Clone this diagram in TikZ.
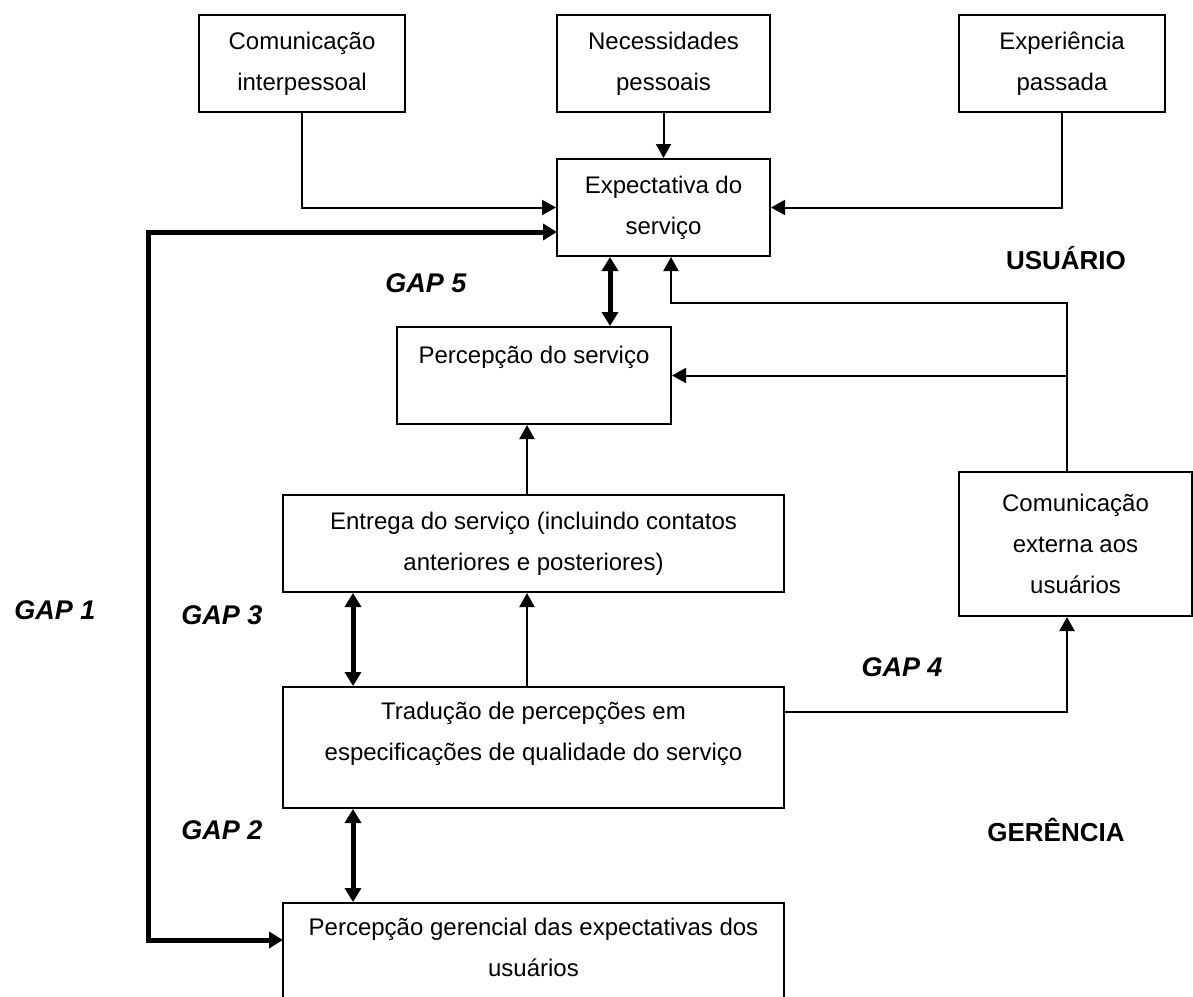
\documentclass[tikz,border=0pt]{standalone}
\usepackage{fontspec}
\setmainfont{Liberation Sans}
\usetikzlibrary{arrows.meta}

\begin{document}
\begin{tikzpicture}[x=0.5pt,y=-0.5pt,
  box/.style={draw,line width=1pt,align=center,inner sep=0pt,
    font=\fontsize{12pt}{20.5pt}\selectfont},
  arr/.style={line width=1pt,-{Triangle[length=7pt,width=7.5pt]}},
  dbl/.style={line width=2.5pt,{Triangle[length=7pt,width=8pt]}-{Triangle[length=7pt,width=8pt]}},
  gap/.style={font=\fontsize{13.5pt}{16pt}\selectfont\bfseries\itshape},
  side/.style={font=\fontsize{13pt}{16pt}\selectfont\bfseries}]
  % page (the last box runs off the bottom)
  \clip (0,0) rectangle (1193,996);
  % columns and rows used by the connectors
  \coordinate (xg5) at (610,0);
  \coordinate (xfb) at (671,0);
  \coordinate (xdl) at (527,0);
  \coordinate (xgp) at (353,0);
  \coordinate (xg1) at (148,0);
  \coordinate (xce) at (1067,0);
  \coordinate (yfb) at (0,303);
  \coordinate (yg4) at (0,712);
  % usuario side
  \node[box,minimum width=103pt,minimum height=48.5pt] (comint) at (302,63.5) {Comunicação\\interpessoal};
  \node[box,minimum width=106.5pt,minimum height=48.5pt] (necess) at (663.5,63.5) {Necessidades\\pessoais};
  \node[box,minimum width=103pt,minimum height=48.5pt] (experi) at (1062,63.5) {Experiência\\passada};
  \node[box,minimum width=106.5pt,minimum height=48.5pt] (expect) at (663.5,207.5) {Expectativa do\\serviço};
  \node[box,minimum width=137pt,minimum height=48.5pt] (percep) at (534,375.5) {Percepção do serviço\\~};
  % gerencia side
  \node[box,minimum width=250.5pt,minimum height=48.5pt] (entrega) at (533.5,543.5) {Entrega do serviço (incluindo contatos\\anteriores e posteriores)};
  \node[box,minimum width=116.5pt,minimum height=72pt] (comext) at (1075.5,544) {Comunicação\\externa aos\\usuários};
  \node[box,minimum width=250.5pt,minimum height=60.5pt,text depth=16pt] (traduc) at (533.5,747.5) {Tradução de percepções em\\especificações de qualidade do serviço};
  \node[box,minimum width=250.5pt,minimum height=60.5pt,text depth=16pt] (gerenc) at (533.5,963.5) {Percepção gerencial das expectativas dos\\usuários};
  % inputs to the expectation
  \draw[arr] (comint.south) |- (expect.west);
  \draw[arr] (necess.south) -- (expect.north);
  \draw[arr] (experi.south) |- (expect.east);
  % feedback from external communication
  \draw[arr] (comext.north -| xce) |- (xfb |- yfb) -- (expect.south -| xfb);
  \draw[arr] (xce |- percep.east) -- (percep.east);
  \draw[arr] (traduc.east |- yg4) -| (comext.south -| xce);
  % delivery chain
  \draw[arr] (entrega.north -| xdl) -- (percep.south -| xdl);
  \draw[arr] (traduc.north -| xdl) -- (entrega.south -| xdl);
  % gaps
  \draw[dbl] (expect.south -| xg5) -- (percep.north -| xg5);
  \draw[dbl] (entrega.south -| xgp) -- (traduc.north -| xgp);
  \draw[dbl] (traduc.south -| xgp) -- (gerenc.north -| xgp);
  \coordinate (g1a) at (557,232);
  \coordinate (g1b) at (283,940);
  \draw[dbl,line join=miter] (g1a) -| (xg1 |- g1b) -- (g1b);
  % labels
  \node[gap] (gap5) at (426,283) {GAP 5};
  \node[gap] (gap1) at (55,610) {GAP 1};
  \node[gap] (gap3) at (222,615) {GAP 3};
  \node[gap] (gap4) at (902,667) {GAP 4};
  \node[gap] (gap2) at (222,830) {GAP 2};
  \node[side] (usuario) at (1066,258) {USUÁRIO};
  \node[side] (gerencia) at (1056,830) {GERÊNCIA};
\end{tikzpicture}
\end{document}
